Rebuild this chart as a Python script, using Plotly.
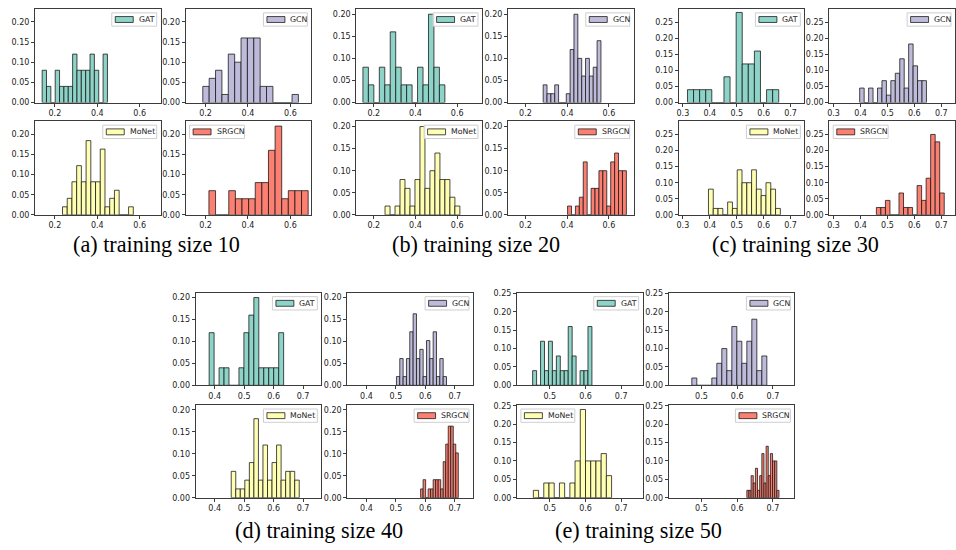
import numpy as np
import plotly.graph_objects as go

W, H = 956, 550

# ---------------- data (fraction of runs per accuracy bin) ----------------
SIZES = ["10", "20", "30", "40", "50"]
MODELS = ["GAT", "GCN", "MoNet", "SRGCN"]
CAPTIONS = ["(a) training size 10", "(b) training size 20", "(c) training size 30",
            "(d) training size 40", "(e) training size 50"]

# training size 10
GAT_10_RANGE = (0.140, 0.448)
GAT_10 = [0.08, 0.04, 0, 0.08, 0.04, 0.04, 0.04, 0.12, 0.08, 0.08, 0.08, 0.12, 0.08, 0, 0.12]
GCN_10_RANGE = (0.187, 0.638)
GCN_10 = [0.04, 0.06, 0.08, 0.02, 0.12, 0.10, 0.16, 0.16, 0.16, 0.04, 0.04, 0, 0, 0, 0.02]
MONET_10_RANGE = (0.236, 0.570)
MONET_10 = [0.020, 0.041, 0.082, 0.122, 0.082, 0.184, 0.082, 0.082, 0.163, 0.020, 0.041, 0.061, 0, 0, 0.020]
SRGCN_10_RANGE = (0.216, 0.684)
SRGCN_10 = [0.06, 0, 0, 0.06, 0.04, 0.04, 0.04, 0.08, 0.08, 0.16, 0.22, 0.04, 0.06, 0.06, 0.06]

# training size 20
GAT_20_RANGE = (0.148, 0.541)
GAT_20 = [0.08, 0.04, 0, 0.08, 0.04, 0.16, 0.08, 0.04, 0.04, 0, 0.08, 0.04, 0.20, 0.08, 0.04]
GCN_20_RANGE = (0.285, 0.562)
GCN_20 = [0.04, 0.02, 0.02, 0.04, 0, 0, 0.02, 0.12, 0.20, 0.10, 0.06, 0.10, 0.06, 0.08, 0.14]
MONET_20_RANGE = (0.254, 0.613)
MONET_20 = [0.02, 0, 0.02, 0.08, 0.06, 0.02, 0.08, 0.20, 0.06, 0.10, 0.14, 0.08, 0.08, 0.04, 0.02]
SRGCN_20_RANGE = (0.402, 0.684)
SRGCN_20 = [0.02, 0, 0.02, 0.04, 0.12, 0, 0.06, 0.06, 0.10, 0.10, 0.02, 0.12, 0.14, 0.10, 0.10]

# training size 30
GAT_30_RANGE = (0.317, 0.656)
GAT_30 = [0.04, 0.04, 0.04, 0.04, 0, 0, 0.08, 0, 0.28, 0.12, 0.12, 0.16, 0, 0.04, 0.04]
GCN_30_RANGE = (0.397, 0.645)
GCN_30 = [0.045, 0, 0.045, 0, 0.045, 0.068, 0.023, 0.068, 0.091, 0.136, 0.045, 0.182, 0.114, 0.068, 0.068]
MONET_30_RANGE = (0.395, 0.662)
MONET_30 = [0.08, 0.02, 0.02, 0, 0.04, 0.02, 0.14, 0.10, 0.10, 0.14, 0.08, 0.06, 0.10, 0.08, 0.02]
SRGCN_30_RANGE = (0.459, 0.711)
SRGCN_30 = [0.023, 0.023, 0.045, 0, 0, 0.068, 0.023, 0.023, 0, 0.091, 0.045, 0.114, 0.25, 0.227, 0.068]

# training size 40
GAT_40_RANGE = (0.381, 0.634)
GAT_40 = [0.12, 0, 0.04, 0.04, 0, 0, 0.04, 0.12, 0.16, 0.20, 0.04, 0.04, 0.04, 0.04, 0.12]
GCN_40_RANGE = (0.502, 0.672)
GCN_40 = [0.020, 0.061, 0.020, 0.061, 0.122, 0.163, 0.061, 0.082, 0.020, 0.102, 0.061, 0.122, 0.020, 0.061, 0.020]
MONET_40_RANGE = (0.456, 0.687)
MONET_40 = [0.06, 0.02, 0.02, 0.04, 0.08, 0.18, 0.04, 0.12, 0.04, 0.08, 0.12, 0.04, 0.06, 0.06, 0.04]
SRGCN_40_RANGE = (0.584, 0.712)
SRGCN_40 = [0.020, 0.041, 0, 0.020, 0.020, 0.041, 0.041, 0.041, 0.020, 0.082, 0.122, 0.163, 0.163, 0.122, 0.102]

# training size 50
GAT_50_RANGE = (0.452, 0.618)
GAT_50 = [0.04, 0, 0.12, 0.04, 0.12, 0.04, 0.08, 0.04, 0.04, 0.16, 0.08, 0, 0.04, 0.04, 0.16]
GCN_50_RANGE = (0.473, 0.683)
GCN_50 = [0.02, 0, 0, 0, 0.02, 0.06, 0.10, 0.04, 0.16, 0.12, 0.06, 0.12, 0.18, 0.04, 0.08]
MONET_50_RANGE = (0.454, 0.673)
MONET_50 = [0.02, 0, 0.04, 0.04, 0, 0.04, 0, 0.04, 0.10, 0.24, 0.10, 0.10, 0.10, 0.12, 0.06]
SRGCN_50_RANGE = (0.627, 0.717)
SRGCN_50 = [0.02, 0.02, 0.06, 0.04, 0.08, 0.02, 0.06, 0.12, 0.04, 0.14, 0.06, 0.12, 0.10, 0.10, 0.02]

HISTS = {
    "10": [(GAT_10_RANGE, GAT_10), (GCN_10_RANGE, GCN_10), (MONET_10_RANGE, MONET_10), (SRGCN_10_RANGE, SRGCN_10)],
    "20": [(GAT_20_RANGE, GAT_20), (GCN_20_RANGE, GCN_20), (MONET_20_RANGE, MONET_20), (SRGCN_20_RANGE, SRGCN_20)],
    "30": [(GAT_30_RANGE, GAT_30), (GCN_30_RANGE, GCN_30), (MONET_30_RANGE, MONET_30), (SRGCN_30_RANGE, SRGCN_30)],
    "40": [(GAT_40_RANGE, GAT_40), (GCN_40_RANGE, GCN_40), (MONET_40_RANGE, MONET_40), (SRGCN_40_RANGE, SRGCN_40)],
    "50": [(GAT_50_RANGE, GAT_50), (GCN_50_RANGE, GCN_50), (MONET_50_RANGE, MONET_50), (SRGCN_50_RANGE, SRGCN_50)],
}

# ---------------- layout / style ----------------
X_LIMITS = [(0.106, 0.699), (0.116, 0.719), (0.284, 0.751), (0.335, 0.762), (0.408, 0.760)]
X_DTICK = [0.2, 0.2, 0.1, 0.1, 0.1]
Y_LIMITS = [0.232, 0.212, 0.291, 0.211, 0.252]

# pixel boxes in the target screen image
GROUP_LEFT = [(33, 184), (355, 507), (678, 829), (194, 346), (516, 668)]
GROUP_ROWS = [((6, 101), (120, 215))] * 3 + [((294, 388), (408, 502))] * 2
AX_W = 126
CAPTION_POS = [(155, 245), (475, 245), (795, 245), (318, 535), (638, 535)]

# legend corner per subplot: 'r' upper right, 'l' upper left
LEGEND_SIDE = [["r", "r", "r", "l"], ["r", "r", "r", "r"], ["r", "r", "r", "l"],
               ["r", "r", "r", "r"], ["r", "r", "l", "r"]]
LEGEND_W = {"GAT": 45, "GCN": 44, "MoNet": 54, "SRGCN": 55}

COLORS = {"GAT": "#8dd3c7", "GCN": "#bebada", "MoNet": "#ffffb3", "SRGCN": "#fb8072"}
EDGE = "rgba(20,20,20,0.85)"
SPINE = "#3c3c3c"
TICKFONT = dict(family="DejaVu Sans", size=8, color="#222222")


def px(x):
    return x / W


def py(y):
    return 1 - y / H


fig = go.Figure()
shapes = []
annotations = []
layout_axes = {}

idx = 0
for g, size in enumerate(SIZES):
    for m, model in enumerate(MODELS):
        idx += 1
        r, c = divmod(m, 2)
        left = GROUP_LEFT[g][c]
        right = left + AX_W
        top, bottom = GROUP_ROWS[g][r]
        xname = "x" if idx == 1 else f"x{idx}"
        yname = "y" if idx == 1 else f"y{idx}"
        xkey = "xaxis" if idx == 1 else f"xaxis{idx}"
        ykey = "yaxis" if idx == 1 else f"yaxis{idx}"

        (lo, hi), heights = HISTS[size][m]
        edges = np.linspace(lo, hi, len(heights) + 1)
        centers = (edges[:-1] + edges[1:]) / 2
        widths = np.diff(edges)
        fig.add_trace(go.Bar(
            x=centers, y=heights, width=widths,
            marker=dict(color=COLORS[model], line=dict(color=EDGE, width=0.9)),
            xaxis=xname, yaxis=yname, showlegend=False, hoverinfo="x+y",
        ))

        layout_axes[xkey] = dict(
            domain=[px(left), px(right)], anchor=yname, range=list(X_LIMITS[g]),
            tick0=0, dtick=X_DTICK[g], tickformat=".1f",
            showline=True, mirror=True, linecolor=SPINE, linewidth=1,
            ticks="outside", ticklen=3, tickwidth=0.8, tickcolor=SPINE,
            showgrid=False, zeroline=False, tickfont=TICKFONT,
        )
        layout_axes[ykey] = dict(
            domain=[py(bottom), py(top)], anchor=xname, range=[0, Y_LIMITS[g]],
            tick0=0, dtick=0.05, tickformat=".2f",
            showline=True, mirror=True, linecolor=SPINE, linewidth=1,
            ticks="outside", ticklen=3, tickwidth=0.8, tickcolor=SPINE,
            showgrid=False, zeroline=False, tickfont=TICKFONT,
        )

        # legend box
        lw = LEGEND_W[model]
        inset = 4
        if LEGEND_SIDE[g][m] == "r":
            bx1 = right - inset
            bx0 = bx1 - lw
        else:
            bx0 = left + inset
            bx1 = bx0 + lw
        by0 = top + inset
        by1 = by0 + 13.5
        shapes.append(dict(type="rect", xref="paper", yref="paper",
                           x0=px(bx0), x1=px(bx1), y0=py(by1), y1=py(by0),
                           fillcolor="rgba(255,255,255,0.85)",
                           line=dict(color="#cfcfcf", width=1), layer="above"))
        ymid = (by0 + by1) / 2
        shapes.append(dict(type="rect", xref="paper", yref="paper",
                           x0=px(bx0 + 3.5), x1=px(bx0 + 21.5),
                           y0=py(ymid + 3), y1=py(ymid - 3),
                           fillcolor=COLORS[model],
                           line=dict(color=EDGE, width=0.9), layer="above"))
        annotations.append(dict(xref="paper", yref="paper", x=px(bx0 + 25), y=py(ymid),
                                xanchor="left", yanchor="middle", showarrow=False,
                                text=model, font=dict(family="DejaVu Sans", size=7.8, color="#222222")))

for g, cap in enumerate(CAPTIONS):
    cx, cy = CAPTION_POS[g]
    annotations.append(dict(xref="paper", yref="paper", x=px(cx), y=py(cy),
                            xanchor="center", yanchor="middle", showarrow=False,
                            text=cap, font=dict(family="Liberation Serif", size=22.2, color="#000000")))

fig.update_layout(
    width=W, height=H, margin=dict(l=0, r=0, t=0, b=0),
    paper_bgcolor="white", plot_bgcolor="white",
    barmode="overlay", showlegend=False,
    shapes=shapes, annotations=annotations,
    **layout_axes,
)

# remove the browser's default page margin so the figure sits at the window origin
fig.write_html("out.html", config={"displayModeBar": False},
               post_script="document.body.style.margin='0px';")
